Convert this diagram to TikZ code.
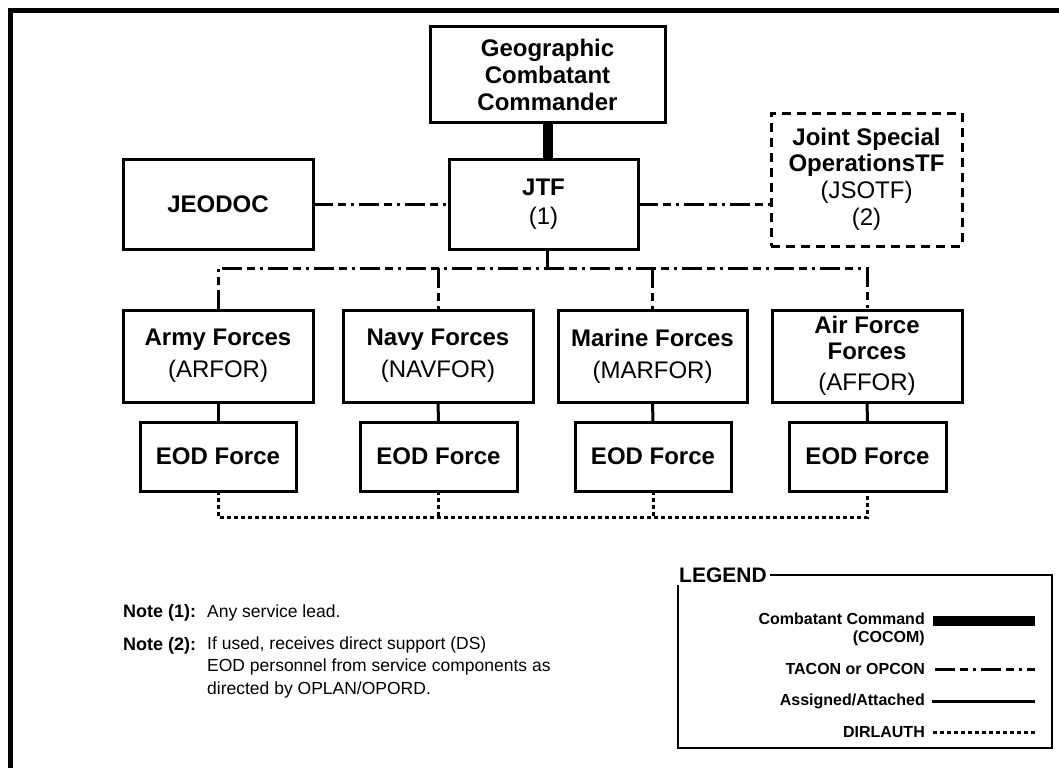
\documentclass[tikz,border=0pt]{standalone}
\usepackage{fontspec}
\setmainfont{Liberation Sans}
\begin{document}
\begin{tikzpicture}[x=1pt,y=-1pt,
  box/.style={draw,line width=3pt,inner sep=0pt,outer sep=0pt,align=center,
    font=\fontsize{24}{26}\selectfont},
  dbox/.style={box,dash pattern=on 9pt off 6pt},
  cocom/.style={line width=10pt},
  tacon/.style={line width=3pt,dash pattern=on 20pt off 5pt on 8pt off 5pt on 3pt off 5pt},
  assigned/.style={line width=3pt},
  dirl/.style={line width=3pt,dash pattern=on 4pt off 3pt},
  note/.style={anchor=west,inner sep=0pt,align=left,font=\fontsize{17.5}{22.5}\selectfont},
  legtext/.style={anchor=east,inner sep=0pt,align=right,font=\fontsize{16}{18}\selectfont\bfseries}]
\useasboundingbox (0,0) rectangle (1059,768);
% outer frame
\draw[line width=5pt] (10.5,768) -- (10.5,10.5) -- (1059,10.5);
% top level
\node[box,minimum width=235pt,minimum height=95pt,font=\fontsize{24}{27}\selectfont] (gcc) at (547.5,74.5)
  {\textbf{Geographic}\\\textbf{Combatant}\\\textbf{Commander}};
\node[box,minimum width=190pt,minimum height=90pt] (jeodoc) at (218,204) {\textbf{JEODOC}};
\node[box,minimum width=189pt,minimum height=90pt] (jtf) at (543.5,204) {\textbf{JTF}\\[3pt](1)};
\node[dbox,minimum width=191pt,minimum height=133pt] (jsotf) at (866.5,179.5)
  {\textbf{Joint Special}\\\textbf{OperationsTF}\\[1pt](JSOTF)\\[1pt](2)};
% forces
\node[box,minimum width=190pt,minimum height=92pt] (army) at (218,356) {\textbf{Army Forces}\\[6pt](ARFOR)};
\node[box,minimum width=190pt,minimum height=92pt] (navy) at (438,356) {\textbf{Navy Forces}\\[6pt](NAVFOR)};
\node[box,minimum width=189pt,minimum height=92pt] (marine) at (652.5,356) {\textbf{Marine Forces}\\[6pt](MARFOR)};
\node[box,minimum width=190pt,minimum height=92pt] (af) at (867,356) {\textbf{Air Force}\\\textbf{Forces}\\[5pt](AFFOR)};
% EOD
\node[box,minimum width=156pt,minimum height=69pt] (eod1) at (218,456.5) {\textbf{EOD Force}};
\node[box,minimum width=157pt,minimum height=69pt] (eod2) at (438.5,456.5) {\textbf{EOD Force}};
\node[box,minimum width=156pt,minimum height=69pt] (eod3) at (653,456.5) {\textbf{EOD Force}};
\node[box,minimum width=157pt,minimum height=69pt] (eod4) at (867.5,456.5) {\textbf{EOD Force}};
% connectors
\draw[cocom] (gcc.south) -- (gcc.south |- jtf.north);
\draw[tacon] (jeodoc.east) -- (jtf.west);
\draw[tacon] (jtf.east) -- (jsotf.west |- jtf.east);
\coordinate (bus) at (547,268);
\draw[tacon] (jtf.south -| bus) -- (bus);
\draw[tacon] (army.north) |- (af.north |- bus) -- (af.north);
\draw[tacon] (navy.north |- bus) -- (navy.north);
\draw[tacon] (marine.north |- bus) -- (marine.north);
\draw[assigned] (army.south) -- (eod1.north);
\draw[assigned] (navy.south) -- (eod2.north);
\draw[assigned] (marine.south) -- (eod3.north);
\draw[assigned] (af.south) -- (eod4.north);
\coordinate (dbus) at (547,517);
\draw[dirl] (eod1.south) |- (eod4.south |- dbus) -- (eod4.south);
\draw[dirl] (eod2.south) -- (eod2.south |- dbus);
\draw[dirl] (eod3.south) -- (eod3.south |- dbus);
% notes
\node[note,font=\fontsize{18}{22.5}\selectfont] (n1) at (123,613) {\textbf{Note (1):}};
\node[note] (n1t) at (207,613) {Any service lead.};
\node[note,font=\fontsize{18}{22.5}\selectfont] (n2) at (123,646) {\textbf{Note (2):}};
\node[note,anchor=north west] (n2t) at (207,636.5) {If used, receives direct support (DS)\\EOD personnel from service components as\\directed by OPLAN/OPORD.};
% legend
\draw[line width=2pt] (678,575) rectangle (1052,748);
\node[anchor=west,fill=white,inner sep=3pt,font=\fontsize{21}{23}\selectfont\bfseries] (leg) at (676,575) {LEGEND};
\node[legtext] (l1) at (925,629) {Combatant Command\\(COCOM)};
\coordinate (l1a) at (933,621);
\coordinate (l1b) at (1035,621);
\draw[cocom] (l1a) -- (l1b);
\node[legtext] (l2) at (925,669) {TACON or OPCON};
\coordinate (l2b) at (1035,669);
\draw[tacon] ([xshift=10pt]l2.east) -- (l2b);
\node[legtext] (l3) at (925,701) {Assigned/Attached};
\coordinate (l3b) at (1035,701);
\draw[assigned] ([xshift=7pt]l3.east) -- (l3b);
\node[legtext] (l4) at (925,732) {DIRLAUTH};
\coordinate (l4b) at (1035,732);
\draw[dirl] ([xshift=8pt]l4.east) -- (l4b);
\end{tikzpicture}
\end{document}
